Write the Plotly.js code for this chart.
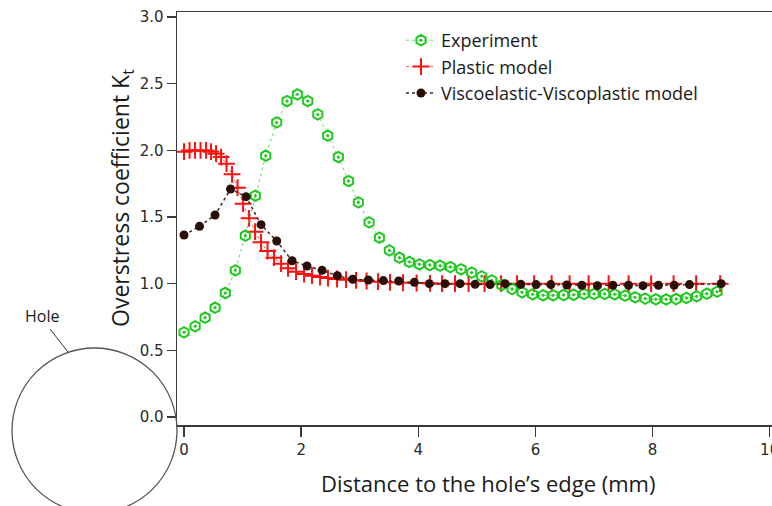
<!DOCTYPE html>
<html>
<head>
<meta charset="utf-8">
<script src="https://cdn.plot.ly/plotly-3.0.1.min.js"></script>
<style>html,body{margin:0;padding:0;background:#fff;}#chart{width:772px;height:506px;}</style>
</head>
<body>
<div id="chart"></div>
<script>
// Experiment
const expX = [0, 0.19, 0.36, 0.53, 0.705, 0.876, 1.047, 1.218, 1.395, 1.583, 1.759, 1.935, 2.113, 2.284, 2.454, 2.635, 2.81, 2.977, 3.16, 3.336, 3.506, 3.677, 3.848, 4.019, 4.197, 4.372, 4.548, 4.731, 4.913, 5.084, 5.255, 5.426, 5.602, 5.773, 5.952, 6.131, 6.302, 6.482, 6.652, 6.832, 7.003, 7.182, 7.353, 7.532, 7.703, 7.874, 8.056, 8.232, 8.403, 8.579, 8.753, 8.927, 9.103];
const expY = [0.635, 0.68, 0.745, 0.82, 0.93, 1.10, 1.36, 1.66, 1.96, 2.21, 2.37, 2.42, 2.37, 2.27, 2.11, 1.95, 1.77, 1.61, 1.46, 1.345, 1.25, 1.195, 1.163, 1.145, 1.14, 1.135, 1.125, 1.108, 1.083, 1.055, 1.025, 0.99, 0.96, 0.935, 0.92, 0.913, 0.913, 0.915, 0.917, 0.923, 0.923, 0.923, 0.92, 0.91, 0.898, 0.888, 0.883, 0.882, 0.885, 0.893, 0.905, 0.925, 0.94];

// Plastic model
const plaX = [0, 0.094, 0.188, 0.282, 0.376, 0.461, 0.547, 0.632, 0.726, 0.82, 0.914, 1.008, 1.11, 1.213, 1.315, 1.426, 1.537, 1.657, 1.776, 1.913, 2.05, 2.186, 2.323, 2.459, 2.613, 2.767, 2.938, 3.117, 3.313, 3.518, 3.74, 3.971, 4.201, 4.406, 4.628, 4.859, 5.132, 5.414, 5.687, 5.978, 6.277, 6.584, 6.909, 7.25, 7.592, 7.976, 8.36, 8.745, 9.155];
const plaY = [1.99, 2.0, 2.0, 2.0, 2.0, 1.99, 1.975, 1.95, 1.90, 1.82, 1.72, 1.60, 1.49, 1.39, 1.31, 1.245, 1.195, 1.15, 1.115, 1.09, 1.072, 1.06, 1.05, 1.042, 1.035, 1.03, 1.025, 1.02, 1.015, 1.01, 1.007, 1.005, 1.003, 1.0, 1.0, 1.0, 1.0, 1.0, 1.0, 1.0, 1.0, 1.0, 1.0, 1.0, 1.0, 1.0, 1.0, 1.0, 1.0];

// Viscoelastic-Viscoplastic model
const visX = [0, 0.265, 0.53, 0.794, 1.059, 1.315, 1.583, 1.845, 2.1, 2.357, 2.618, 2.881, 3.147, 3.403, 3.666, 3.933, 4.189, 4.457, 4.714, 4.97, 5.227, 5.483, 5.751, 6.012, 6.263, 6.537, 6.793, 7.059, 7.322, 7.589, 7.835, 8.101, 8.369, 8.631, 9.172];
const visY = [1.365, 1.43, 1.515, 1.71, 1.653, 1.443, 1.32, 1.172, 1.133, 1.10, 1.06, 1.033, 1.028, 1.023, 1.02, 1.01, 1.0, 1.0, 1.0, 0.995, 0.993, 1.0, 0.995, 0.993, 0.993, 0.99, 0.988, 0.985, 0.988, 0.988, 0.985, 0.988, 0.988, 0.993, 1.0];

const xTicks = [0, 2, 4, 6, 8, 10];
const yTicks = [0.0, 0.5, 1.0, 1.5, 2.0, 2.5, 3.0];

const seriesNames = ['Experiment', 'Plastic model', 'Viscoelastic-Viscoplastic model'];
const xTitle = 'Distance to the hole\u2019s edge (mm)';
const yTitle = 'Overstress coefficient K<sub>t</sub>';
const holeLabel = 'Hole';

const txtFont = '"Open Sans", "Noto Sans", sans-serif';
const tickFont = '"DejaVu Sans", "Liberation Sans", Arial, sans-serif';

const traces = [
  {
    x: plaX, y: plaY, name: seriesNames[1], mode: 'lines+markers', legendrank: 2,
    line: {color: '#ff5555', width: 1, dash: 'dot'},
    marker: {symbol: 'cross-thin-open', size: 12, color: '#ff1010', line: {color: '#ff1010', width: 2}}
  },
  {
    x: expX, y: expY, name: seriesNames[0], mode: 'lines+markers', legendrank: 1,
    line: {color: '#66dd66', width: 1, dash: 'dot'},
    marker: {symbol: 'hexagon-open-dot', size: 10.5, color: '#1ec81e', line: {color: '#1ec81e', width: 2}}
  },
  {
    x: visX, y: visY, name: seriesNames[2], mode: 'lines+markers', legendrank: 3,
    line: {color: '#3a2a22', width: 1.5, dash: 'dot'},
    marker: {symbol: 'circle', size: 9, color: '#2b0e05'}
  }
];

const px2x = p => (p - 177) / 595;
const px2y = p => (425 - p) / 413;

const layout = {
  width: 772, height: 506,
  margin: {l: 177, r: 0, t: 12, b: 81, pad: 0},
  paper_bgcolor: '#fff', plot_bgcolor: '#fff',
  showlegend: true,
  legend: {
    x: px2x(401), y: px2y(22), xanchor: 'left', yanchor: 'top',
    bgcolor: 'rgba(0,0,0,0)', font: {family: txtFont, size: 18, color: '#1a1a1a'},
    tracegroupgap: 0, itemwidth: 30
  },
  xaxis: {
    range: [-0.12, 10.04], tickvals: xTicks, ticktext: xTicks.map(String),
    showgrid: false, zeroline: false, showline: true, linecolor: '#3a3a3a', linewidth: 1.5,
    mirror: true, ticks: 'outside', ticklen: 10, tickwidth: 1.5, tickcolor: '#3a3a3a',
    ticklabeloverflow: 'allow',
    tickfont: {family: tickFont, size: 15, color: '#2a2a2a'}
  },
  yaxis: {
    range: [-0.06, 3.038], tickvals: yTicks, ticktext: yTicks.map(v => v.toFixed(1)),
    showgrid: false, zeroline: false, showline: true, linecolor: '#3a3a3a', linewidth: 1.5,
    ticks: 'outside', ticklen: 9, tickwidth: 1.5, tickcolor: '#3a3a3a',
    tickfont: {family: tickFont, size: 15, color: '#2a2a2a'}
  },
  shapes: [
    {type: 'circle', xref: 'paper', yref: 'paper', x0: px2x(12), x1: px2x(177), y0: px2y(513), y1: px2y(348),
     line: {color: '#555', width: 1.3}, fillcolor: 'rgba(0,0,0,0)', layer: 'above'},
    {type: 'line', xref: 'paper', yref: 'paper', x0: px2x(50), y0: px2y(329), x1: px2x(68), y1: px2y(352),
     line: {color: '#333', width: 1}}
  ],
  annotations: [
    {text: holeLabel, xref: 'paper', yref: 'paper', x: px2x(42), y: px2y(316), xanchor: 'center', yanchor: 'middle',
     showarrow: false, font: {family: txtFont, size: 16, color: '#1a1a1a'}},
    {text: xTitle, xref: 'paper', yref: 'paper', x: px2x(488), y: px2y(483), xanchor: 'center', yanchor: 'middle',
     showarrow: false, font: {family: txtFont, size: 22, color: '#1a1a1a'}},
    {text: yTitle, xref: 'paper', yref: 'paper', x: px2x(121), y: px2y(198), xanchor: 'center', yanchor: 'middle',
     textangle: -90, showarrow: false, font: {family: txtFont, size: 23, color: '#1a1a1a'}}
  ]
};

Plotly.newPlot('chart', traces, layout, {displayModeBar: false, staticPlot: true});
</script>
</body>
</html>
